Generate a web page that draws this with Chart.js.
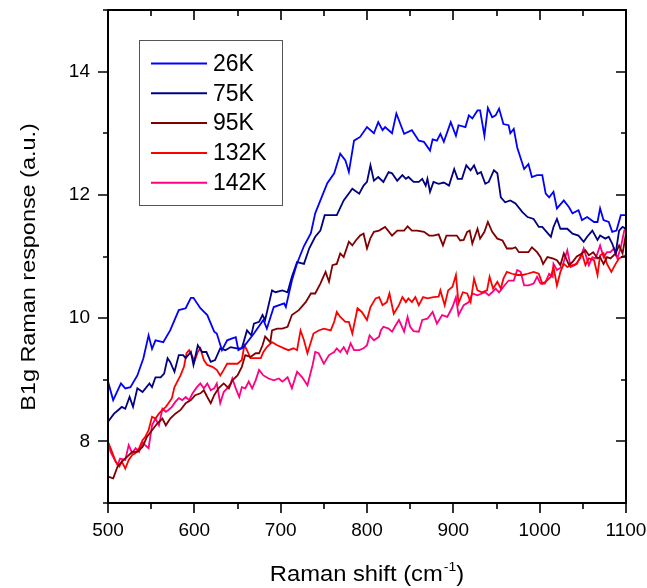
<!DOCTYPE html>
<html>
<head>
<meta charset="utf-8">
<script src="https://cdn.jsdelivr.net/npm/chart.js@4/dist/chart.umd.min.js"></script>
<style>
  html, body { margin: 0; padding: 0; background: #fff; }
  canvas { display: block; }
</style>
</head>
<body>
<canvas id="c" width="647" height="588"></canvas>
<script>
// ---- data (Raman shift in cm-1, response in a.u.) ----
var labels = ['26K', '75K', '95K', '132K', '142K'];
var colors = ['#0000ff', '#000080', '#800000', '#ff0000', '#ff0080'];

var shift26 = [500,506,515,520,526,534,541,547,551,555,564,572,582,590,596,599,607,615,623,626,632,638,644,648,651,657,669,680,684,692,704,706,713,719,727,735,740,746,754,762,769,775,779,785,792,800,808,813,818,821,829,834,843,852,860,866,873,876,881,885,889,897,903,906,914,918,922,928,931,936,940,945,949,953,958,964,966,970,974,982,987,991,997,1003,1007,1011,1016,1020,1028,1034,1038,1045,1049,1055,1063,1067,1070,1074,1080,1084,1089,1094,1100];
var resp26 = [8.97,8.67,8.94,8.86,8.88,9.07,9.35,9.72,9.50,9.64,9.61,9.80,10.13,10.16,10.33,10.33,10.16,10.05,9.78,9.75,9.48,9.64,9.67,9.69,9.48,9.53,9.75,9.97,9.83,10.18,10.24,10.18,10.61,10.89,11.17,11.38,11.70,11.91,12.19,12.35,12.67,12.56,12.37,12.88,12.94,13.10,13.00,13.18,13.05,13.10,13.00,13.32,12.99,13.05,12.88,12.86,12.72,12.90,12.88,12.99,12.86,13.18,12.96,13.13,13.10,13.29,13.24,13.37,13.37,12.96,13.41,13.26,13.29,13.40,13.15,13.13,13.00,13.07,12.77,12.42,12.50,12.29,12.32,12.32,12.02,11.96,12.05,11.78,11.91,11.80,11.70,11.75,11.59,11.64,11.56,11.56,11.78,11.59,11.56,11.40,11.42,11.67,11.67];

var shift75 = [500,507,512,516,520,525,529,534,540,548,551,555,561,565,569,572,577,582,587,590,596,599,604,609,614,619,624,630,636,642,649,655,661,666,669,675,679,682,690,694,702,708,713,719,727,733,740,746,751,756,765,773,783,791,796,800,804,808,813,819,825,829,835,841,845,848,854,860,864,868,870,873,877,883,889,895,901,905,910,915,920,924,928,932,937,941,947,951,955,960,966,972,980,986,993,999,1003,1008,1013,1016,1020,1024,1032,1038,1045,1051,1055,1061,1067,1070,1076,1080,1084,1088,1092,1096,1100];
var resp75 = [8.32,8.45,8.51,8.56,8.53,8.72,8.56,8.86,8.80,8.94,8.88,9.04,9.04,9.10,9.35,9.29,9.13,9.40,9.40,9.35,9.45,9.24,9.56,9.45,9.45,9.29,9.32,9.51,9.48,9.53,9.51,9.51,9.80,9.72,9.91,9.94,10.05,9.97,10.45,10.42,10.45,10.42,10.67,10.91,10.88,11.13,11.32,11.42,11.67,11.67,11.67,11.91,12.10,12.02,12.15,12.21,12.48,12.23,12.29,12.21,12.37,12.35,12.23,12.32,12.26,12.29,12.21,12.21,12.26,12.15,12.26,12.05,12.21,12.18,12.20,12.15,12.42,12.26,12.26,12.48,12.40,12.48,12.34,12.37,12.18,12.21,12.40,12.35,11.96,11.88,11.91,11.86,11.72,11.64,11.61,11.48,11.48,11.40,11.32,11.48,11.61,11.45,11.45,11.37,11.34,11.24,11.32,11.42,11.27,11.34,11.29,11.32,11.21,11.05,11.42,11.48,11.45];

var shift95 = [500,506,511,516,522,528,534,540,545,551,557,563,567,572,578,584,590,596,601,607,611,615,619,623,628,634,640,644,650,655,659,665,671,675,679,682,688,690,696,702,708,713,721,729,735,740,746,752,756,760,765,769,773,779,783,787,792,796,800,804,808,814,821,829,835,843,847,852,858,866,872,877,883,888,892,899,904,908,912,916,919,922,926,928,931,936,940,945,951,957,962,968,972,976,982,987,991,997,1001,1004,1009,1015,1020,1024,1028,1034,1038,1043,1049,1053,1057,1062,1067,1070,1074,1078,1082,1088,1092,1096,1100];
var resp95 = [7.43,7.40,7.59,7.67,7.75,7.83,7.83,7.91,8.07,8.18,8.29,8.37,8.26,8.37,8.45,8.51,8.62,8.67,8.75,8.78,8.83,8.72,8.62,8.75,8.86,8.94,8.86,8.99,9.07,9.21,9.40,9.37,9.43,9.43,9.56,9.70,9.61,9.80,9.83,9.83,9.86,10.05,10.13,10.26,10.40,10.40,10.56,10.75,10.59,10.86,10.88,11.05,10.99,11.24,11.18,11.26,11.34,11.37,11.13,11.30,11.40,11.42,11.48,11.34,11.42,11.42,11.49,11.42,11.42,11.40,11.34,11.34,11.36,11.18,11.34,11.34,11.34,11.26,11.27,11.40,11.42,11.21,11.37,11.45,11.29,11.40,11.56,11.40,11.29,11.26,11.13,11.13,11.15,11.07,11.07,11.07,11.15,11.07,10.99,10.88,10.99,10.97,10.94,10.86,11.05,10.86,10.91,11.00,11.05,11.10,11.02,11.07,10.97,10.99,10.88,10.99,10.97,11.05,11.18,11.05,11.37];

var shift132 = [500,503,509,513,516,520,524,528,532,536,540,543,547,551,555,559,563,567,570,574,577,581,584,588,591,594,598,600,604,607,611,615,621,626,630,634,638,644,650,655,658,661,665,671,677,680,684,690,696,704,709,715,719,723,727,731,738,744,750,758,762,765,769,775,779,783,789,794,800,804,810,814,818,823,826,831,837,841,845,848,852,856,860,865,870,877,883,885,890,894,899,903,906,911,916,920,924,928,933,939,942,946,951,955,958,962,968,974,980,986,993,999,1003,1007,1013,1016,1020,1024,1028,1032,1038,1043,1049,1053,1057,1063,1067,1070,1074,1078,1083,1088,1092,1096,1100];
var resp132 = [7.99,7.89,7.67,7.59,7.67,7.56,7.70,7.78,7.81,7.89,8.02,8.07,8.18,8.40,8.37,8.45,8.51,8.56,8.62,8.70,8.88,8.99,9.07,9.21,9.43,9.48,9.37,9.29,9.45,9.51,9.32,9.24,9.21,9.16,9.07,9.16,9.26,9.26,9.26,9.32,9.56,9.48,9.35,9.35,9.35,9.45,9.53,9.61,9.56,9.51,9.48,9.51,9.48,9.80,9.64,9.43,9.75,9.80,9.83,9.80,9.94,10.10,10.02,9.94,9.94,9.75,10.16,10.10,9.97,10.18,10.32,10.34,10.21,10.26,10.40,10.07,10.21,10.34,10.26,10.32,10.26,10.34,10.21,10.34,10.32,10.34,10.35,10.45,10.21,10.45,10.51,10.70,10.24,10.42,10.40,10.26,10.64,10.45,10.42,10.45,10.67,10.48,10.59,10.48,10.64,10.75,10.72,10.70,10.70,10.72,10.75,10.72,10.56,10.59,10.67,10.83,10.53,10.75,10.88,10.83,10.86,10.88,11.05,10.86,10.97,10.94,10.70,11.02,11.05,10.88,10.75,10.88,10.97,11.00,11.02];

var shift142 = [500,503,507,511,514,520,524,528,532,536,540,543,547,551,555,559,563,567,570,574,578,582,586,590,594,598,603,607,611,615,619,623,626,630,634,638,642,644,648,652,655,659,663,667,671,675,680,686,692,698,702,708,713,719,725,731,737,740,744,750,756,762,765,769,773,777,781,785,791,796,800,803,808,814,816,819,825,829,833,837,843,847,850,854,860,864,870,876,881,887,893,899,903,906,912,918,922,928,933,937,941,945,949,953,958,964,970,974,978,982,987,993,997,1001,1006,1011,1015,1016,1020,1026,1032,1036,1041,1047,1051,1057,1061,1065,1070,1074,1078,1082,1086,1090,1094,1098,1100];
var resp142 = [7.99,7.83,7.72,7.62,7.72,7.70,7.94,7.81,7.89,7.83,7.99,7.94,7.89,8.26,8.37,8.26,8.53,8.48,8.51,8.56,8.64,8.70,8.67,8.72,8.67,8.78,8.88,8.94,8.86,8.94,8.83,8.86,8.94,8.62,8.80,8.86,8.94,9.02,8.86,8.72,8.88,8.86,8.97,8.86,8.99,9.16,9.07,9.02,8.99,9.02,8.97,9.04,8.86,9.13,9.04,8.91,9.24,9.45,9.43,9.26,9.40,9.45,9.51,9.45,9.53,9.43,9.59,9.48,9.48,9.51,9.56,9.72,9.64,9.70,9.80,9.86,9.83,9.78,9.88,9.97,9.78,10.02,9.86,9.79,9.78,9.97,9.99,10.10,9.91,10.05,10.02,10.18,10.34,10.05,10.21,10.26,10.40,10.37,10.40,10.42,10.37,10.42,10.48,10.42,10.51,10.61,10.61,10.78,10.75,10.53,10.53,10.56,10.67,10.56,10.56,10.72,10.67,10.88,10.78,10.83,11.10,10.83,10.86,10.97,11.13,10.86,10.99,10.97,11.18,10.99,11.07,11.07,11.13,10.97,11.15,11.42,11.48];

var xTickLabels = [500, 600, 700, 800, 900, 1000, 1100];
var yTickLabels = [8, 10, 12, 14];
var xTitle = ['Raman shift (cm', '-1', ')'];
var yTitle = 'B1g Raman response (a.u.)';

var FONT = '"Liberation Sans", Arial, Helvetica, sans-serif';

function pairs(xs, ys) {
  return xs.map(function (x, i) { return { x: x, y: ys[i] }; });
}

var series = [
  pairs(shift26, resp26),
  pairs(shift75, resp75),
  pairs(shift95, resp95),
  pairs(shift132, resp132),
  pairs(shift142, resp142)
];

// no automatic label overhang padding: the frame is placed by hand
function noPad(s) {
  s.paddingTop = 0; s.paddingBottom = 0; s.paddingLeft = 0; s.paddingRight = 0;
}

// frame, inside/outside ticks, axis titles and the boxed legend
var frame = {
  id: 'frame',
  afterDraw: function (chart) {
    var ctx = chart.ctx, a = chart.chartArea;
    var xs = chart.scales.x, ys = chart.scales.y;
    ctx.save();
    ctx.strokeStyle = '#000';
    ctx.lineWidth = 2;
    ctx.strokeRect(a.left, a.top, a.right - a.left, a.bottom - a.top);

    ctx.lineWidth = 1.6;
    ctx.beginPath();
    var v, p, len;
    for (v = 500; v <= 1100; v += 50) {
      p = Math.round(xs.getPixelForValue(v));
      len = v % 100 === 0 ? 10 : 6;
      ctx.moveTo(p, a.bottom); ctx.lineTo(p, a.bottom + len);   // bottom: outward
      ctx.moveTo(p, a.top); ctx.lineTo(p, a.top + len);         // top: inward
    }
    for (v = 7; v <= 15; v += 1) {
      p = Math.round(ys.getPixelForValue(v));
      len = v % 2 === 0 ? 10 : 5;
      ctx.moveTo(a.left, p); ctx.lineTo(a.left - len, p);      // left: outward
      ctx.moveTo(a.right, p); ctx.lineTo(a.right - len, p);    // right: inward
    }
    ctx.stroke();

    // axis titles (the original lettering is a bit wide, hence the stretch)
    ctx.fillStyle = '#000';
    ctx.save();
    ctx.translate(35, 267);
    ctx.rotate(-Math.PI / 2);
    ctx.scale(1.17, 1);
    ctx.font = '20px ' + FONT;
    ctx.textAlign = 'center';
    ctx.textBaseline = 'alphabetic';
    ctx.fillText(yTitle, 0, 0);
    ctx.restore();

    ctx.save();
    ctx.textAlign = 'left';
    ctx.textBaseline = 'alphabetic';
    ctx.font = '22px ' + FONT;
    var w1 = ctx.measureText(xTitle[0]).width, w3 = ctx.measureText(xTitle[2]).width;
    ctx.font = '13px ' + FONT;
    var w2 = ctx.measureText(xTitle[1]).width;
    var sx = 1.08, total = (w1 + w2 + w3 + 1) * sx;
    ctx.translate((a.left + a.right) / 2 - total / 2, 580.5);
    ctx.scale(sx, 1);
    ctx.font = '22px ' + FONT;
    ctx.fillText(xTitle[0], 0, 0);
    ctx.font = '13px ' + FONT;
    ctx.fillText(xTitle[1], w1 + 1, -10);
    ctx.font = '22px ' + FONT;
    ctx.fillText(xTitle[2], w1 + w2 + 1, 0);
    ctx.restore();

    // legend box
    ctx.fillStyle = '#fff';
    ctx.fillRect(139.5, 40.5, 143, 165);
    ctx.strokeStyle = '#555';
    ctx.lineWidth = 1;
    ctx.strokeRect(139.5, 40.5, 143, 165);
    ctx.font = '23px ' + FONT;
    ctx.textAlign = 'left';
    ctx.textBaseline = 'middle';
    chart.data.datasets.forEach(function (ds, i) {
      var y = 63.5 + i * 29.8;
      ctx.strokeStyle = ds.borderColor;
      ctx.lineWidth = 2;
      ctx.beginPath();
      ctx.moveTo(151, y); ctx.lineTo(207, y);
      ctx.stroke();
      ctx.fillStyle = '#000';
      ctx.fillText(ds.label, 213, y + 1);
    });
    ctx.restore();
  }
};

new Chart(document.getElementById('c'), {
  type: 'line',
  data: {
    datasets: series.map(function (d, i) {
      return {
        label: labels[i],
        data: d,
        borderColor: colors[i],
        backgroundColor: colors[i],
        borderWidth: 1.8,
        pointRadius: 0,
        tension: 0,
        fill: false
      };
    })
  },
  options: {
    responsive: false,
    animation: false,
    devicePixelRatio: 1,
    layout: { autoPadding: false, padding: { top: 10, right: 21, left: 0, bottom: 0 } },
    plugins: { legend: { display: false }, tooltip: { enabled: false } },
    scales: {
      x: {
        type: 'linear', min: 500, max: 1100,
        afterFit: function (s) { s.height = 85; noPad(s); },
        afterBuildTicks: function (s) { s.ticks = xTickLabels.map(function (v) { return { value: v }; }); },
        grid: { display: false, drawTicks: false },
        border: { display: false },
        ticks: { padding: 16, color: '#000', maxRotation: 0, autoSkip: false, font: { family: FONT, size: 19 },
                 callback: function (v) { return String(v); } }
      },
      y: {
        type: 'linear', min: 7, max: 15,
        afterFit: function (s) { s.width = 108; noPad(s); },
        afterBuildTicks: function (s) { s.ticks = yTickLabels.map(function (v) { return { value: v }; }); },
        grid: { display: false, drawTicks: false },
        border: { display: false },
        ticks: { padding: 18, color: '#000', autoSkip: false, font: { family: FONT, size: 19 },
                 callback: function (v) { return String(v); } }
      }
    }
  },
  plugins: [frame]
});
</script>
</body>
</html>
